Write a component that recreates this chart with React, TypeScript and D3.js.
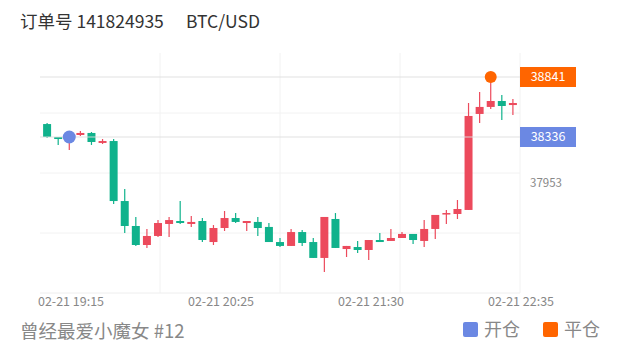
import React, { useRef, useEffect } from 'react';
import * as d3 from 'd3';

const orderTitle = '订单号 141824935';
const symbol = 'BTC/USD';
const traderName = '曾经最爱小魔女 #12';
const legendItems = ['开仓', '平仓'];
const timeLabels = ['02-21 19:15', '02-21 20:25', '02-21 21:30', '02-21 22:35'];

// candle prices (red = rise, green = fall)
const opens = [38445, 38336, 38336, 38353, 38370, 38286, 38302, 37797, 37587, 37427, 37503, 37604, 37629, 37604, 37629, 37452, 37570, 37654, 37612, 37621, 37579, 37452, 37419, 37536, 37452, 37318, 37646, 37393, 37410, 37385, 37469, 37461, 37486, 37520, 37461, 37562, 37688, 37688, 37722, 38530, 38589, 38639, 38605];
const closes = [38336, 38319, 38361, 38370, 38294, 38302, 37797, 37587, 37427, 37503, 37612, 37637, 37612, 37621, 37469, 37570, 37654, 37621, 37629, 37570, 37452, 37419, 37536, 37444, 37318, 37663, 37402, 37419, 37385, 37469, 37452, 37486, 37520, 37469, 37562, 37680, 37696, 37730, 38513, 38589, 38639, 38597, 38622];
const highs = [38454, 38336, 38370, 38387, 38378, 38319, 38319, 37898, 37663, 37562, 37637, 37663, 37797, 37671, 37654, 37595, 37713, 37696, 37629, 37663, 37612, 37486, 37562, 37553, 37486, 37663, 37696, 37419, 37461, 37469, 37528, 37562, 37536, 37520, 37637, 37680, 37722, 37806, 38622, 38715, 38841, 38690, 38656];
const lows = [38328, 38269, 38227, 38344, 38269, 38277, 37772, 37528, 37419, 37402, 37494, 37494, 37604, 37578, 37452, 37427, 37545, 37612, 37545, 37503, 37452, 37410, 37419, 37419, 37318, 37200, 37402, 37326, 37360, 37301, 37452, 37461, 37486, 37436, 37410, 37478, 37604, 37646, 37722, 38454, 38572, 38479, 38521];

const openPrice = 38336;
const closePrice = 38841;
const openIndex = 2;
const closeIndex = 40;
const axisLabelPrice = 37953;
const priceDomain = [37023, 39043];

const UP = '#ec4a5c';
const DOWN = '#10b28c';
const OPEN_COLOR = '#6b88e3';
const CLOSE_COLOR = '#ff6500';
const FONT = '"Noto Sans CJK SC", "Noto Sans", sans-serif';

const App: React.FC = () => {
  const svgRef = useRef<SVGSVGElement>(null);
  const width = 620;
  const height = 352;
  const left = 40;
  const right = 520;
  const top = 53;
  const bottom = 293;

  useEffect(() => {
    d3.select(svgRef.current).selectAll('*').remove();
    const svg = d3.select(svgRef.current);

    svg.append('rect').attr('width', width).attr('height', height).attr('fill', '#fff');

    const x = d3.scaleBand<number>()
      .domain(d3.range(opens.length))
      .range([left, right])
      .padding(0.28);
    const cx = (i: number) => x(i)! + x.bandwidth() / 2;

    const y = d3.scaleLinear().domain(priceDomain).range([bottom, top]);

    // grid
    const gridX = d3.scaleLinear().domain([0, 4]).range([left, right]);
    svg.append('g').selectAll('line')
      .data(d3.range(1, 5))
      .enter().append('line')
      .attr('x1', d => gridX(d)).attr('x2', d => gridX(d))
      .attr('y1', top).attr('y2', bottom)
      .attr('stroke', '#f2f2f2');

    const gridY = d3.scaleLinear().domain([0, 4]).range(priceDomain);
    svg.append('g').selectAll('line')
      .data([1, 2, 3])
      .enter().append('line')
      .attr('x1', left).attr('x2', right)
      .attr('y1', d => y(gridY(d))).attr('y2', d => y(gridY(d)))
      .attr('stroke', '#f2f2f2');

    svg.append('line')
      .attr('x1', left).attr('x2', right)
      .attr('y1', bottom).attr('y2', bottom)
      .attr('stroke', '#eeeeee');

    // candles
    const candles = svg.append('g').selectAll('g')
      .data(opens.map((o, i) => ({ i, o, c: closes[i], h: highs[i], l: lows[i] })))
      .enter().append('g');

    candles.append('line')
      .attr('x1', d => cx(d.i)).attr('x2', d => cx(d.i))
      .attr('y1', d => y(d.h)).attr('y2', d => y(d.l))
      .attr('stroke', d => (d.c >= d.o ? UP : DOWN))
      .attr('stroke-width', 1.2);

    candles.append('rect')
      .attr('x', d => x(d.i)!)
      .attr('width', x.bandwidth())
      .attr('y', d => y(Math.max(d.o, d.c)))
      .attr('height', d => Math.max(1.5, Math.abs(y(d.o) - y(d.c))))
      .attr('fill', d => (d.c >= d.o ? UP : DOWN));

    // price lines
    svg.append('g').selectAll('line')
      .data([closePrice, openPrice])
      .enter().append('line')
      .attr('x1', left).attr('x2', right)
      .attr('y1', d => y(d)).attr('y2', d => y(d))
      .attr('stroke', '#dedede')
      .attr('stroke-opacity', 0.9);

    // open / close markers
    svg.append('circle')
      .attr('cx', cx(openIndex)).attr('cy', y(openPrice))
      .attr('r', 6.5).attr('fill', OPEN_COLOR);
    svg.append('circle')
      .attr('cx', cx(closeIndex)).attr('cy', y(closePrice))
      .attr('r', 6).attr('fill', CLOSE_COLOR);

    // right-side price tags
    const tags = [
      { v: closePrice, color: CLOSE_COLOR },
      { v: openPrice, color: OPEN_COLOR },
    ];
    const tag = svg.append('g').selectAll('g').data(tags).enter().append('g');
    tag.append('rect')
      .attr('x', right).attr('y', d => y(d.v) - 10)
      .attr('width', 56).attr('height', 20)
      .attr('fill', d => d.color);
    tag.append('text')
      .attr('x', right + 28).attr('y', d => y(d.v))
      .attr('dy', '0.35em')
      .attr('text-anchor', 'middle')
      .attr('fill', '#fff')
      .attr('font-family', FONT)
      .attr('font-size', 12.5)
      .text(d => d.v);

    svg.append('text')
      .attr('x', right + 10).attr('y', y(axisLabelPrice))
      .attr('dy', '0.35em')
      .attr('fill', '#888')
      .attr('font-family', FONT)
      .attr('font-size', 11.5)
      .text(axisLabelPrice);

    // time axis labels
    const tx = d3.scalePoint<string>().domain(timeLabels).range([71, 521]);
    svg.append('g').selectAll('text')
      .data(timeLabels)
      .enter().append('text')
      .attr('x', d => tx(d)!)
      .attr('y', 302)
      .attr('dy', '0.35em')
      .attr('text-anchor', 'middle')
      .attr('fill', '#888')
      .attr('font-family', FONT)
      .attr('font-size', 12.5)
      .text(d => d);

    // header
    svg.append('text')
      .attr('x', 20).attr('y', 28)
      .attr('fill', '#333')
      .attr('font-family', FONT)
      .attr('font-size', 17.5)
      .text(orderTitle);
    svg.append('text')
      .attr('x', 186).attr('y', 28)
      .attr('fill', '#333')
      .attr('font-family', FONT)
      .attr('font-size', 17.5)
      .text(symbol);

    // footer
    svg.append('text')
      .attr('x', 20).attr('y', 338)
      .attr('fill', '#888')
      .attr('font-family', FONT)
      .attr('font-size', 18.5)
      .text(traderName);

    const legend = svg.append('g').selectAll('g')
      .data(legendItems)
      .enter().append('g')
      .attr('transform', (d, i) => `translate(${463 + i * 80},322)`);
    legend.append('rect')
      .attr('width', 15).attr('height', 15).attr('rx', 2)
      .attr('fill', (d, i) => (i === 0 ? OPEN_COLOR : CLOSE_COLOR));
    legend.append('text')
      .attr('x', 21).attr('y', 8)
      .attr('dy', '0.35em')
      .attr('fill', '#888')
      .attr('font-family', FONT)
      .attr('font-size', 18)
      .text(d => d);
  }, []);

  return (
    <svg
      ref={svgRef}
      width={width}
      height={height}
      style={{ position: 'absolute', left: 0, top: 0 }}
    ></svg>
  );
};

export default App;
